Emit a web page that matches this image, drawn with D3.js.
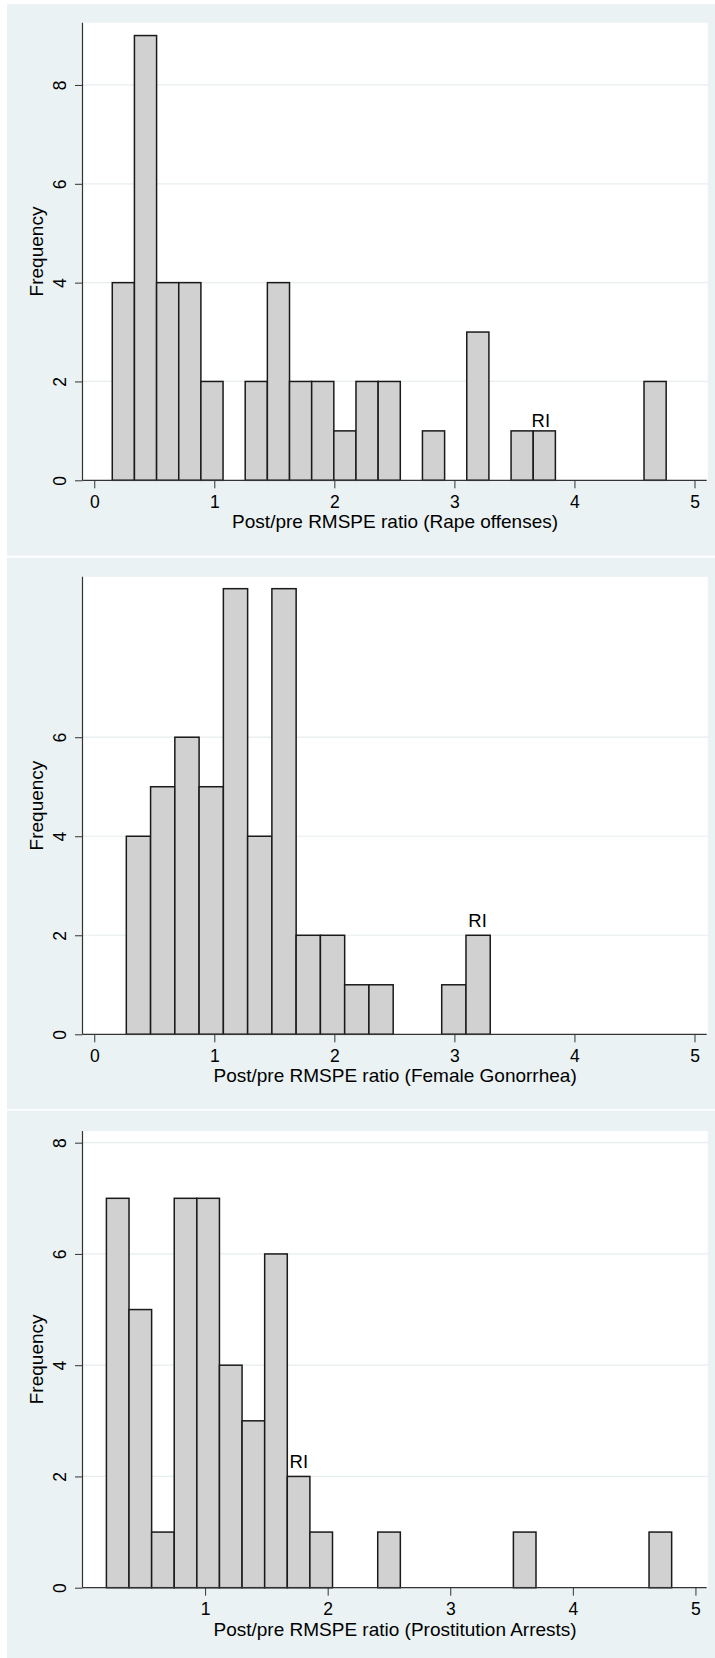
<!DOCTYPE html>
<html>
<head>
<meta charset="utf-8">
<script src="https://cdn.jsdelivr.net/npm/d3@7"></script>
<style>
  html, body { margin: 0; padding: 0; background: #ffffff; }
  svg { display: block; }
  text { font-family: "Liberation Sans", Arial, Helvetica, sans-serif; fill: #000; }
</style>
</head>
<body>
<svg id="chart" width="715" height="1658"></svg>
<script>
// ---------------- data ----------------
const rapeCounts = [4, 9, 4, 4, 2, 0, 2, 4, 2, 2, 1, 2, 2, 0, 1, 0, 3, 0, 1, 1, 0, 0, 0, 0, 2];
const rapeBinStart = 0.15;
const rapeBinWidth = 0.18456;

const gonoCounts = [4, 5, 6, 5, 9, 4, 9, 2, 2, 1, 1, 0, 0, 1, 2];
const gonoBinStart = 0.267;
const gonoBinWidth = 0.2021;

const prosCounts = [7, 5, 1, 7, 7, 4, 3, 6, 2, 1, 0, 0, 1, 0, 0, 0, 0, 0, 1, 0, 0, 0, 0, 0, 1];
const prosBinStart = 0.195;
const prosBinWidth = 0.18444;

const xTicksA = [0, 1, 2, 3, 4, 5];
const xTicksB = [1, 2, 3, 4, 5];
const yTicksA = [0, 2, 4, 6, 8];
const yTicksB = [0, 2, 4, 6];

const riLabel = "RI";
const riX = [3.72, 3.193, 1.765];
const riY = [1.07, 2.17, 2.15];

const xTitles = [
  "Post/pre RMSPE ratio (Rape offenses)",
  "Post/pre RMSPE ratio (Female Gonorrhea)",
  "Post/pre RMSPE ratio (Prostitution Arrests)"
];
const yTitle = "Frequency";

// ---------------- layout ----------------
const panels = [
  { counts: rapeCounts, start: rapeBinStart, width: rapeBinWidth, xTicks: xTicksA, yTicks: yTicksA,
    bg: [4, 555.7], plot: [22.7, 480.3], xDom: [-0.098, 5.11], yMax: 9.26 },
  { counts: gonoCounts, start: gonoBinStart, width: gonoBinWidth, xTicks: xTicksA, yTicks: yTicksB,
    bg: [557.7, 1109], plot: [576.8, 1034.3], xDom: [-0.098, 5.11], yMax: 9.24 },
  { counts: prosCounts, start: prosBinStart, width: prosBinWidth, xTicks: xTicksB, yTicks: yTicksA,
    bg: [1110.5, 1658], plot: [1131, 1587.7], xDom: [0, 5.1], yMax: 8.21 }
];

const plotLeft = 82.5, plotRight = 707.7;
const svg = d3.select("#chart");

panels.forEach((p, i) => {
  const g = svg.append("g");
  // panel background
  g.append("rect")
    .attr("x", 7).attr("y", p.bg[0])
    .attr("width", 715 - 7).attr("height", p.bg[1] - p.bg[0])
    .attr("fill", "#eaf2f3");
  // plot region
  g.append("rect")
    .attr("x", plotLeft).attr("y", p.plot[0])
    .attr("width", plotRight - plotLeft).attr("height", p.plot[1] - p.plot[0])
    .attr("fill", "#ffffff");

  const x = d3.scaleLinear().domain(p.xDom).range([plotLeft, plotRight]);
  const y = d3.scaleLinear().domain([0, p.yMax]).range([p.plot[1], p.plot[0]]);

  // gridlines
  g.selectAll(".grid").data(p.yTicks.filter(t => t > 0)).enter().append("line")
    .attr("x1", plotLeft).attr("x2", plotRight)
    .attr("y1", d => y(d)).attr("y2", d => y(d))
    .attr("stroke", "#e6eef0").attr("stroke-width", 1.2);

  // bars
  const bins = p.counts.map((c, k) => ({ x0: p.start + k * p.width, x1: p.start + (k + 1) * p.width, c }))
    .filter(b => b.c > 0);
  g.selectAll(".bar").data(bins).enter().append("rect")
    .attr("x", d => x(d.x0)).attr("width", d => x(d.x1) - x(d.x0))
    .attr("y", d => y(d.c)).attr("height", d => y(0) - y(d.c))
    .attr("fill", "#d1d1d1").attr("stroke", "#1a1a1a").attr("stroke-width", 1.5);

  // x axis
  const xAxis = d3.axisBottom(x).tickValues(p.xTicks).tickSize(8).tickPadding(7).tickFormat(d3.format("d"));
  const xa = g.append("g").attr("transform", `translate(0,${p.plot[1]})`).call(xAxis);
  xa.select(".domain").remove();
  xa.selectAll(".tick line").attr("stroke", "#333").attr("stroke-width", 1);
  xa.selectAll(".tick text").attr("font-size", 17.5).attr("fill", "#000")
    .attr("font-family", "Liberation Sans, Arial, sans-serif");
  g.append("line").attr("x1", plotLeft).attr("x2", plotRight - 1)
    .attr("y1", p.plot[1]).attr("y2", p.plot[1]).attr("stroke", "#333").attr("stroke-width", 1.2);

  // y axis
  const yAxis = d3.axisLeft(y).tickValues(p.yTicks).tickSize(7.5).tickFormat(d3.format("d"));
  const ya = g.append("g").attr("transform", `translate(${plotLeft},0)`).call(yAxis);
  ya.select(".domain").remove();
  ya.selectAll(".tick line").attr("stroke", "#333").attr("stroke-width", 1);
  ya.selectAll(".tick text")
    .attr("font-size", 17.5).attr("fill", "#000")
    .attr("font-family", "Liberation Sans, Arial, sans-serif")
    .attr("x", null).attr("dy", null)
    .attr("text-anchor", "middle")
    .attr("transform", `translate(${66 - plotLeft},0) rotate(-90)`);
  g.append("line").attr("x1", plotLeft).attr("x2", plotLeft)
    .attr("y1", p.plot[0]).attr("y2", p.plot[1]).attr("stroke", "#333").attr("stroke-width", 1.2);

  // axis titles
  g.append("text")
    .attr("x", (plotLeft + plotRight) / 2).attr("y", p.plot[1] + 48)
    .attr("text-anchor", "middle").attr("font-size", 19)
    .text(xTitles[i]);
  g.append("text")
    .attr("transform", `translate(43,${(p.plot[0] + p.plot[1]) / 2}) rotate(-90)`)
    .attr("text-anchor", "middle").attr("font-size", 19)
    .text(yTitle);

  // RI label
  g.append("text")
    .attr("x", x(riX[i])).attr("y", y(riY[i]))
    .attr("text-anchor", "middle").attr("font-size", 18.5)
    .text(riLabel);
});
</script>
</body>
</html>
